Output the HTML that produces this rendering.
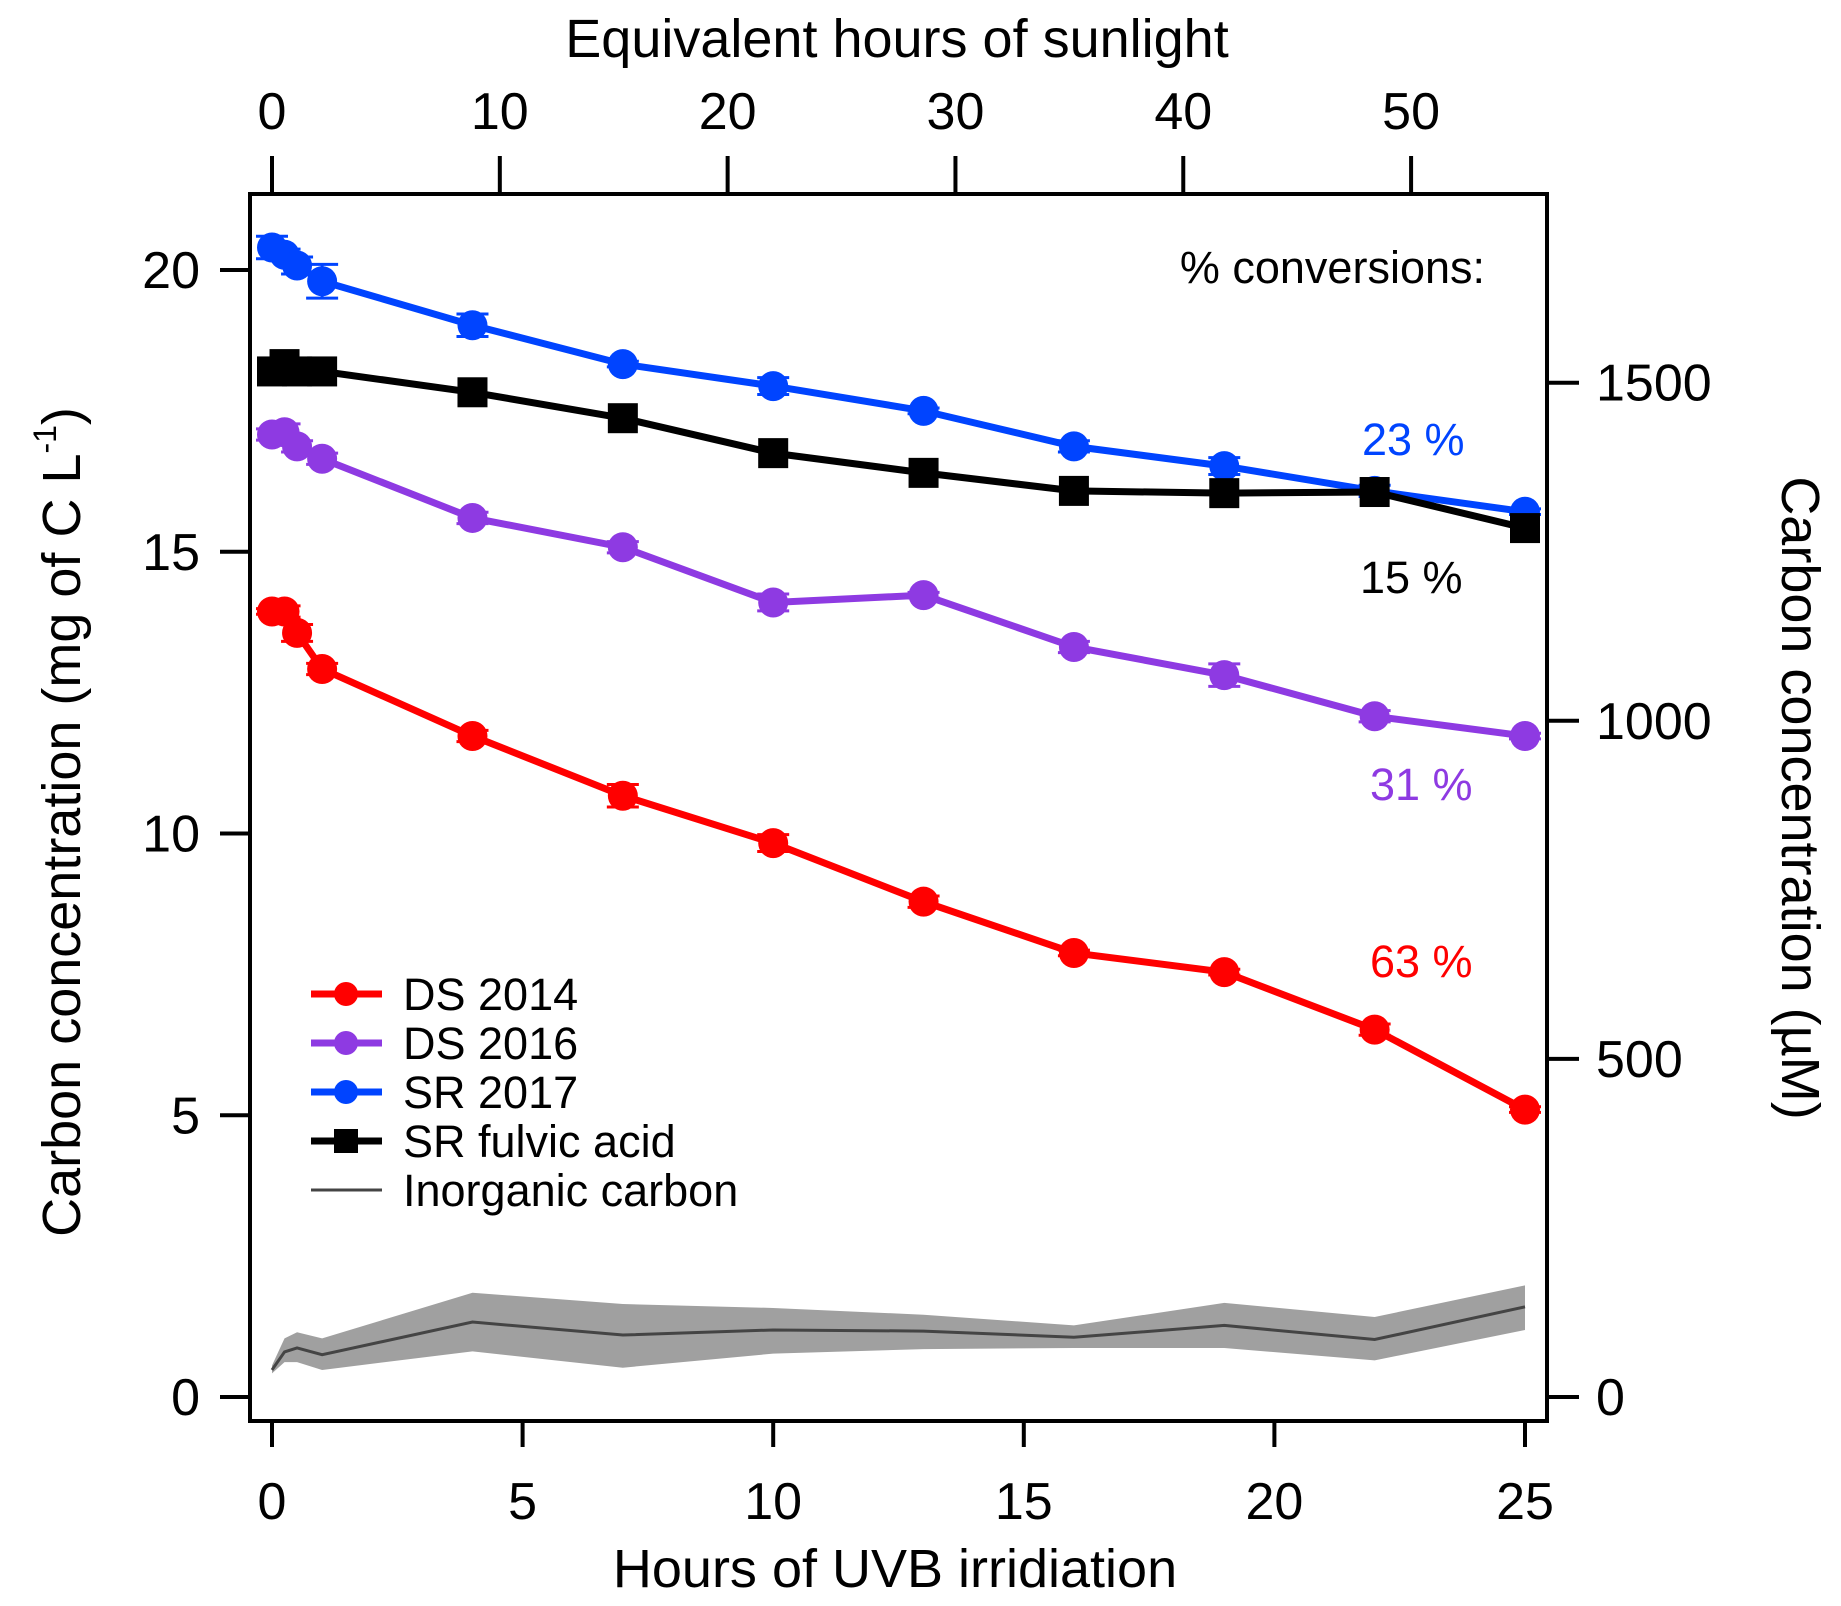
<!DOCTYPE html>
<html><head><meta charset="utf-8"><style>
html,body{margin:0;padding:0;background:#fff}
svg{display:block;font-family:"Liberation Sans",Helvetica,Arial,sans-serif}
</style></head><body>
<svg id="chart" width="1841" height="1606" viewBox="0 0 1841 1606" xmlns="http://www.w3.org/2000/svg"></svg>
<script>
const hours = [0, 0.25, 0.5, 1, 4, 7, 10, 13, 16, 19, 22, 25];
const sr2017 = [20.4, 20.27, 20.08, 19.8, 19.02, 18.33, 17.94, 17.5, 16.87, 16.52, 16.08, 15.71];
const sr2017Err = [0.2, 0.1, 0.15, 0.3, 0.2, 0.05, 0.15, 0.05, 0.1, 0.15, 0.1, 0.05];
const srFulvic = [18.2, 18.33, 18.2, 18.2, 17.83, 17.37, 16.75, 16.4, 16.08, 16.04, 16.06, 15.42];
const ds2016 = [17.08, 17.12, 16.87, 16.65, 15.6, 15.08, 14.1, 14.23, 13.31, 12.81, 12.08, 11.73];
const ds2016Err = [0.1, 0.15, 0.1, 0.1, 0.1, 0.1, 0.15, 0.05, 0.1, 0.2, 0.1, 0.05];
const ds2014 = [13.94, 13.94, 13.56, 12.92, 11.73, 10.67, 9.83, 8.79, 7.88, 7.54, 6.52, 5.1];
const ds2014Err = [0.05, 0.1, 0.15, 0.1, 0.1, 0.2, 0.15, 0.1, 0.05, 0.05, 0.1, 0.05];
const inorg = [0.48, 0.8, 0.87, 0.75, 1.33, 1.1, 1.19, 1.17, 1.06, 1.27, 1.02, 1.6];
const inorgHi = [0.56, 1.04, 1.15, 1.04, 1.85, 1.65, 1.58, 1.46, 1.27, 1.67, 1.42, 1.98];
const inorgLo = [0.42, 0.62, 0.62, 0.48, 0.81, 0.52, 0.77, 0.85, 0.87, 0.87, 0.65, 1.19];
const xTicks = [0, 5, 10, 15, 20, 25];
const yTicks = [0, 5, 10, 15, 20];
const topTicks = [0, 10, 20, 30, 40, 50];
const rightTicks = [0, 500, 1000, 1500];

const NS = "http://www.w3.org/2000/svg";
const svg = document.getElementById("chart");
const L = 250, R = 1547, T = 194, B = 1421;
const x = h => 272 + h * (1525 - 272) / 25;
const y = v => 1397 - v * (1397 - 270) / 20;
const xTop = s => x(s / 2.2);
const yRight = m => y(m * 12 / 1000);
function el(tag, attrs, parent) {
  const e = document.createElementNS(NS, tag);
  for (const k in attrs) e.setAttribute(k, attrs[k]);
  (parent || svg).appendChild(e);
  return e;
}
function text(str, attrs, name) {
  const t = el("text", Object.assign({fill: "#000", "font-size": 52}, attrs));
  t.textContent = str;
  
  
  return t;
}

const band = el("path", {fill: "#a0a0a0", d: "M" + hours.map((h, i) => x(h) + "," + y(inorgHi[i])).join("L") + "L" + hours.slice().reverse().map((h, j) => x(h) + "," + y(inorgLo[hours.length - 1 - j])).join("L") + "Z"});


const inl = el("polyline", {fill: "none", stroke: "#444", "stroke-width": 3, points: hours.map((h, i) => x(h) + "," + y(inorg[i])).join(" ")});



function series(vals, errs, color, square, name) {
  const g = el("g", {});
  
  
  el("polyline", {fill: "none", stroke: color, "stroke-width": 7, points: hours.map((h, i) => x(h) + "," + y(vals[i])).join(" ")}, g);
  hours.forEach((h, i) => {
    if (errs) {
      const e = errs[i], cx = x(h);
      el("path", {stroke: color, "stroke-width": 3, fill: "none", d: `M${cx},${y(vals[i] + e)}V${y(vals[i] - e)}M${cx - 16},${y(vals[i] + e)}h32M${cx - 16},${y(vals[i] - e)}h32`}, g);
    }
    let m;
    if (square) m = el("rect", {x: x(h) - 15, y: y(vals[i]) - 15, width: 30, height: 30, fill: color}, g);
    else m = el("circle", {cx: x(h), cy: y(vals[i]), r: 15, fill: color}, g);
    
    
  });
}
series(ds2014, ds2014Err, "#ff0000", false, "ds-2014-series");
series(ds2016, ds2016Err, "#8e3ae2", false, "ds-2016-series");
series(sr2017, sr2017Err, "#0044ff", false, "sr-2017-series");
series(srFulvic, null, "#000", true, "sr-fulvic-acid-series");

const frame = el("rect", {x: L, y: T, width: R - L, height: B - T, fill: "none", stroke: "#000", "stroke-width": 4});



xTicks.forEach(v => { el("line", {x1: x(v), x2: x(v), y1: B, y2: B + 26, stroke: "#000", "stroke-width": 4}); text(String(v), {x: x(v), y: 1519, "text-anchor": "middle"}, "x-tick-label"); });
yTicks.forEach(v => { el("line", {x1: 220, x2: L, y1: y(v), y2: y(v), stroke: "#000", "stroke-width": 4}); text(String(v), {x: 200, y: y(v) + 18, "text-anchor": "end"}, "y-tick-label"); });
topTicks.forEach(v => { el("line", {x1: xTop(v), x2: xTop(v), y1: 156, y2: T, stroke: "#000", "stroke-width": 4}); text(String(v), {x: xTop(v), y: 129, "text-anchor": "middle"}, "top-tick-label"); });
rightTicks.forEach(v => { el("line", {x1: R, x2: 1579, y1: yRight(v), y2: yRight(v), stroke: "#000", "stroke-width": 4}); text(String(v), {x: 1596, y: yRight(v) + 18, "text-anchor": "start"}, "right-tick-label"); });

text("Equivalent hours of sunlight", {x: 897, y: 57, "text-anchor": "middle", "font-size": 54}, "top-axis-title");
text("Hours of UVB irridiation", {x: 895, y: 1587, "text-anchor": "middle", "font-size": 54}, "x-axis-title");
const lt = text("", {transform: "translate(80,822) rotate(-90)", "text-anchor": "middle", "font-size": 54}, "y-axis-title");
lt.innerHTML = 'Carbon concentration (mg of C L<tspan dy="-24" font-size="32">-1</tspan><tspan dy="24">)</tspan>';
text("Carbon concentration (µM)", {transform: "translate(1782,798) rotate(90)", "text-anchor": "middle", "font-size": 54}, "right-axis-title");

text("% conversions:", {x: 1485, y: 283, "text-anchor": "end", "font-size": 45}, "conversions-label");
text("23 %", {x: 1362, y: 455, "font-size": 45, fill: "#0044ff"}, "sr-2017-conversion");
text("15 %", {x: 1360, y: 593, "font-size": 45}, "sr-fulvic-conversion");
text("31 %", {x: 1370, y: 800, "font-size": 45, fill: "#8e3ae2"}, "ds-2016-conversion");
text("63 %", {x: 1370, y: 977, "font-size": 45, fill: "#ff0000"}, "ds-2014-conversion");

const leg = [["DS 2014", "#ff0000", "c"], ["DS 2016", "#8e3ae2", "c"], ["SR 2017", "#0044ff", "c"], ["SR fulvic acid", "#000", "s"], ["Inorganic carbon", "#444", "l"]];
const ly = [994, 1043, 1092, 1141, 1190];
leg.forEach((d, i) => {
  const g = el("g", {});
  
  
  el("line", {x1: 311, x2: 382, y1: ly[i], y2: ly[i], stroke: d[1], "stroke-width": d[2] === "l" ? 3 : 7}, g);
  if (d[2] === "c") el("circle", {cx: 346, cy: ly[i], r: 12, fill: d[1]}, g);
  if (d[2] === "s") el("rect", {x: 334, y: ly[i] - 12, width: 24, height: 24, fill: d[1]}, g);
  const t = el("text", {x: 403, y: ly[i] + 16, "font-size": 45, fill: "#000"}, g);
  t.textContent = d[0];
});
</script>
</body></html>
